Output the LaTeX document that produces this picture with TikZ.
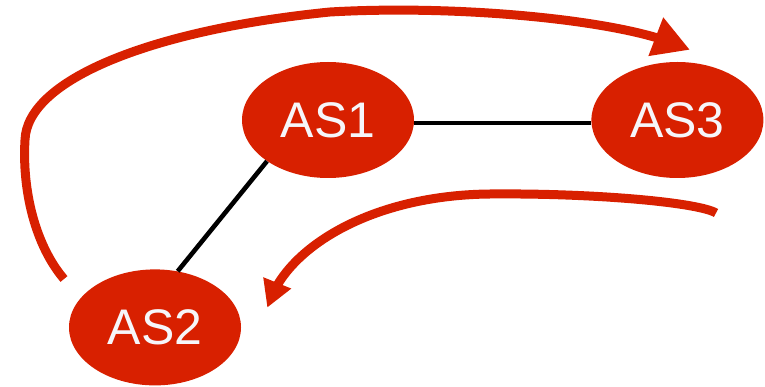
\documentclass[tikz,border=0pt]{standalone}
\usepackage{fontspec}
\setmainfont{Liberation Sans}
\usetikzlibrary{shapes,positioning}
\definecolor{asred}{RGB}{216,32,0}
\definecolor{aswhite}{RGB}{246,246,250}
\tikzset{
	asnode/.style = {
		ellipse, 
		fill=asred, 
		minimum width=172pt, 
		minimum height=116pt, 
		inner sep=0pt, 
		text=aswhite, 
		font=\fontsize{50}{60}\selectfont
	},
	link/.style = {
		line width=4.6pt, 
		black
	},
	route/.style = {
		line width=9pt, 
		draw=asred
	},
	head/.style = {
		regular polygon, 
		regular polygon sides=3, 
		fill=asred, 
		inner sep=0pt
	}
}

\begin{document}
\begin{tikzpicture}[x=1pt, y=-1pt]
		
		\useasboundingbox (0,0) rectangle (765,387);
		
		\node [asnode] (as1) at (328,120) {AS1};
		
		\node [asnode, right=177pt of as1] (as3) {AS3};
		
		\node [asnode, below=91pt of as1, xshift=-173pt] (as2) {AS2};
		
		% --- Enlaces ---
		\draw [link] (as1.-2) -- (as3.182);
		\draw [link] (as1.214) -- (as2.68);
		
		% Puntas de flecha dibujadas a mano
		\node [head, minimum size=48pt, rotate=9] (tip3) at (667,41) {};
		\node [head, minimum size=35pt, rotate=158] (tip2) at (274,291) {};
		
		% Ruta de AS2 hacia AS3 por arriba
		\coordinate (from2) at (64,279);
		\draw [route] (from2) .. controls (35,245) and (22,190) .. (25,140)
		.. controls (27,80) and (150,30) .. (330,12)
		.. controls (450,5) and (600,18) .. (tip3.center);
		
		% Ruta de vuelta hacia AS2
		\coordinate (from3) at (716,213);
		\draw [route] (from3) .. controls (700,203) and (600,193) .. (490,194)
		.. controls (380,195) and (300,240) .. (tip2.center);
		
	\end{tikzpicture}
\end{document}
